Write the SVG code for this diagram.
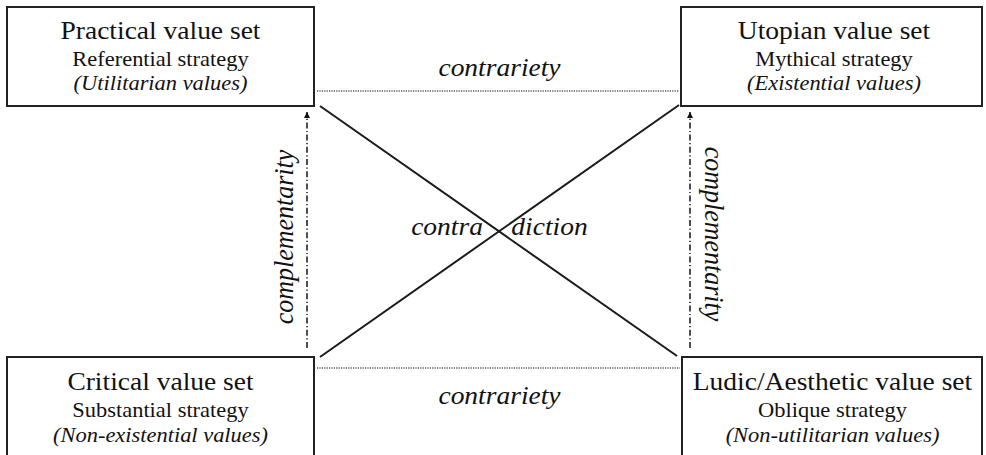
<svg xmlns="http://www.w3.org/2000/svg" width="986" height="455" viewBox="0 0 986 455">
<defs>
<style>
.box{fill:#fff;stroke:#222;stroke-width:2}
text{font-family:"Liberation Serif","Times New Roman",serif;fill:#111;text-anchor:middle}
.t1{font-size:25px}
.t2{font-size:20.4px}
.t3{font-size:20.4px;font-style:italic}
.lbl{font-size:25px;font-style:italic}
.vlbl{font-size:26px;font-style:italic}
.diag{stroke:#1a1a1a;stroke-width:2;fill:none}
.dot{stroke:#555;stroke-width:1.6;stroke-dasharray:1.2,1.2;fill:none}
.comp{stroke:#222;stroke-width:1.6;stroke-dasharray:6,2.5,1.2,2.5;fill:none}
</style>
<marker id="ah" viewBox="0 0 10 10" refX="10" refY="5" markerWidth="7" markerHeight="6" markerUnits="userSpaceOnUse" orient="auto">
<path d="M0,0 L10,5 L0,10 z" fill="#111"/>
</marker>
</defs>
<rect width="986" height="455" fill="#fff"/>
<g id="connectors">
<line class="diag" x1="320" y1="106" x2="677" y2="356"/>
<line class="diag" x1="320" y1="357" x2="679" y2="105"/>
<line class="dot" x1="317" y1="91" x2="679" y2="91"/>
<line class="dot" x1="317" y1="368" x2="680" y2="368"/>
<line class="comp" x1="307" y1="348" x2="307" y2="112" marker-end="url(#ah)"/>
<line class="comp" x1="690" y1="348" x2="690" y2="112" marker-end="url(#ah)"/>
<text class="lbl" transform="translate(499.5,76) scale(1.1,1)">contrariety</text>
<text class="lbl" transform="translate(499.5,404) scale(1.1,1)">contrariety</text>
<text class="lbl" transform="translate(447,235) scale(1.1,1)">contra</text>
<text class="lbl" transform="translate(549.5,235) scale(1.1,1)">diction</text>
<text class="vlbl" transform="translate(293,237) rotate(-90) scale(1,1.05)">complementarity</text>
<text class="vlbl" transform="translate(705,234) rotate(90) scale(1,1.05)">complementarity</text>
</g>
<g id="practical">
<rect class="box" x="7" y="7" width="307" height="99"/>
<text class="t1" transform="translate(160.5,39) scale(1.1,1)">Practical value set</text>
<text class="t2" transform="translate(160.5,66) scale(1.1,1)">Referential strategy</text>
<text class="t3" transform="translate(160.5,90) scale(1.1,1)">(Utilitarian values)</text>
</g>
<g id="utopian">
<rect class="box" x="681" y="7" width="301" height="99"/>
<text class="t1" transform="translate(834,39) scale(1.1,1)">Utopian value set</text>
<text class="t2" transform="translate(834,66) scale(1.1,1)">Mythical strategy</text>
<text class="t3" transform="translate(834,90) scale(1.1,1)">(Existential values)</text>
</g>
<g id="critical">
<rect class="box" x="7" y="357" width="307" height="110"/>
<text class="t1" transform="translate(160.5,390) scale(1.1,1)">Critical value set</text>
<text class="t2" transform="translate(160.5,417) scale(1.1,1)">Substantial strategy</text>
<text class="t3" transform="translate(160.5,442) scale(1.1,1)">(Non-existential values)</text>
</g>
<g id="ludic">
<rect class="box" x="682" y="357" width="300" height="110"/>
<text class="t1" transform="translate(832.5,390) scale(1.1,1)">Ludic/Aesthetic value set</text>
<text class="t2" transform="translate(832.5,417) scale(1.1,1)">Oblique strategy</text>
<text class="t3" transform="translate(832.5,442) scale(1.1,1)">(Non-utilitarian values)</text>
</g>
</svg>
